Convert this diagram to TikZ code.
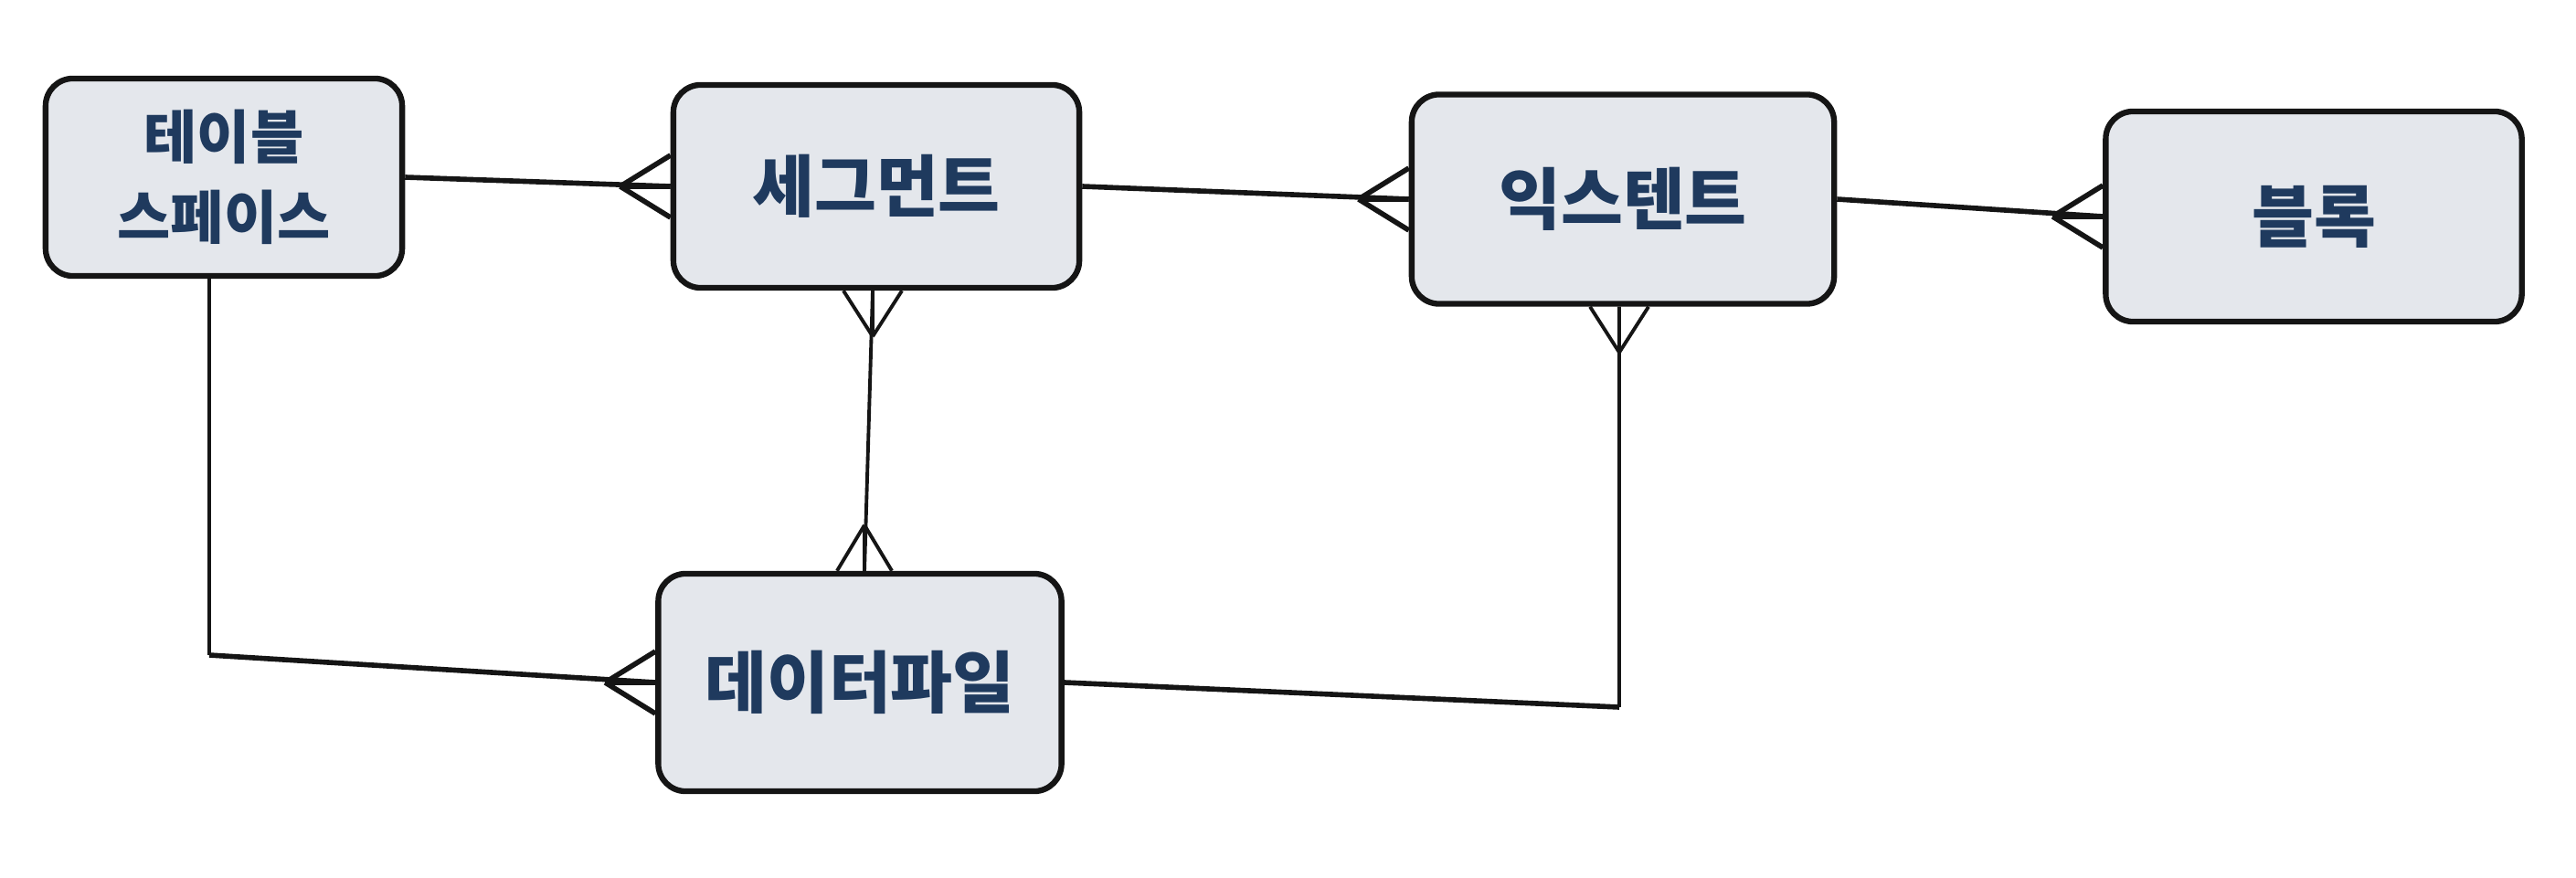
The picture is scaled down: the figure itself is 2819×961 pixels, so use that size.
\documentclass[tikz,border=0pt]{standalone}
\usepackage{fontspec}
\setmainfont{Noto Sans CJK KR}
\usetikzlibrary{calc}
\definecolor{boxfill}{HTML}{E4E7EC}
\definecolor{boxtext}{HTML}{1F3A5E}
\definecolor{edge}{HTML}{151515}
\tikzset{
  entity/.style={draw=edge, line width=1.8pt, fill=boxfill, rounded corners=0.3cm,
    text=boxtext, font=\fontsize{21}{25}\selectfont\bfseries, align=center, inner sep=0pt},
  small entity/.style={entity, font=\fontsize{18}{25}\selectfont\bfseries},
  link/.style={draw=edge, line width=1.6pt},
  vlink/.style={draw=edge, line width=1.1pt},
}
\newcommand\crowW[1]{\draw[link] ($(#1)+(-55,0)$) -- ($(#1)+(0,34)$) ($(#1)+(-55,0)$) -- ($(#1)+(0,-34)$) ($(#1)+(-55,0)$) -- (#1);}
\newcommand\crowS[1]{\draw[vlink] ($(#1)+(0,50)$) -- ($(#1)+(-32,0)$) ($(#1)+(0,50)$) -- ($(#1)+(32,0)$) ($(#1)+(0,50)$) -- (#1);}
\newcommand\crowN[1]{\draw[vlink] ($(#1)+(0,-50)$) -- ($(#1)+(-30,0)$) ($(#1)+(0,-50)$) -- ($(#1)+(30,0)$) ($(#1)+(0,-50)$) -- (#1);}
\begin{document}
\begin{tikzpicture}[x=0.01cm, y=-0.01cm]
\useasboundingbox (0,0) rectangle (2819,961);
\node[small entity, minimum width=3.9cm, minimum height=2.16cm] (ts) at (245,194) {테이블\\스페이스};
\node[entity, minimum width=4.44cm, minimum height=2.22cm] (seg) at (959,204) {세그먼트};
\node[entity, minimum width=4.62cm, minimum height=2.29cm] (ext) at (1776,218) {익스텐트};
\node[entity, minimum width=4.55cm, minimum height=2.30cm] (blk) at (2532,237) {블록};
\node[entity, minimum width=4.41cm, minimum height=2.38cm] (df) at (941,747) {데이터파일};
\coordinate (c1) at (229,717);
\coordinate (c2) at (1772,774);
% connectors
\draw[link] (ts.east) -- (seg.west);
\crowW{seg.west}
\draw[link] (seg.east) -- (ext.west);
\crowW{ext.west}
\draw[link] (ext.east) -- (blk.west);
\crowW{blk.west}
\draw[vlink] ($(seg.south)+(-4,0)$) -- ($(df.north)+(5,0)$);
\crowS{$(seg.south)+(-4,0)$}
\crowN{$(df.north)+(5,0)$}
\draw[vlink] (c1 |- ts.south) -- (c1);
\draw[link] (c1) -- (df.west);
\crowW{df.west}
\draw[vlink] (ext.south -| c2) -- (c2);
\draw[link] (c2) -- (df.east);
\crowS{ext.south -| c2}
\end{tikzpicture}
\end{document}
